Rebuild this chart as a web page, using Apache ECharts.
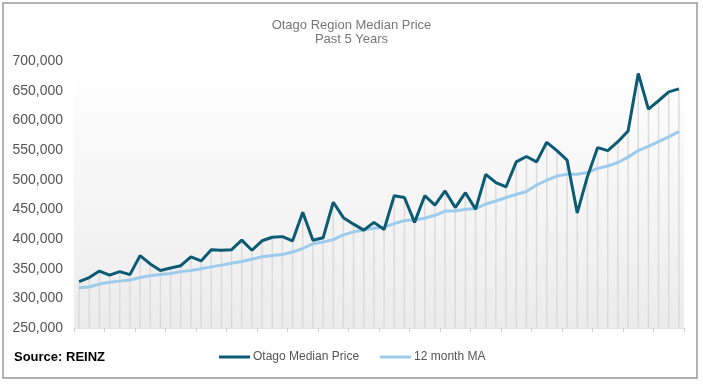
<!DOCTYPE html>
<html>
<head>
<meta charset="utf-8">
<script src="https://cdn.jsdelivr.net/npm/echarts@6/dist/echarts.min.js"></script>
<style>html,body{margin:0;padding:0;background:#fff;}#chart{width:703px;height:385px;}</style>
</head>
<body>
<div id="chart"></div>
<script>
// Months (60 monthly observations, past 5 years)
const months = Array.from({length: 60}, (_, i) => 'M' + (i + 1));
const medianPrice = [328000, 335000, 346000, 339000, 345000, 340000, 372000, 358000, 347000, 351000,
  355000, 370000, 363000, 382000, 381000, 382000, 398000, 381000, 397000, 403000,
  404000, 397000, 445000, 398000, 402000, 462000, 436000, 425000, 415000, 428000,
  416000, 473000, 470000, 428000, 473000, 457000, 481000, 453000, 478000, 450000,
  509000, 495000, 488000, 530000, 539000, 530000, 563000, 549000, 533000, 444000,
  505000, 554000, 549000, 564000, 582000, 679000, 619000, 633000, 648000, 653000];
const movingAvg = [318000, 319000, 324000, 327000, 329000, 331000, 335000, 338000, 340000, 342000,
  345000, 347000, 350000, 353000, 356000, 359000, 362000, 366000, 370000, 372000,
  374000, 378000, 384000, 392000, 395000, 399000, 407000, 412000, 415000, 418000,
  420000, 426000, 431000, 432000, 435000, 440000, 447000, 447000, 450000, 451000,
  459000, 464000, 470000, 475000, 480000, 491000, 499000, 506000, 509000, 509000,
  512000, 519000, 523000, 529000, 538000, 549000, 556000, 564000, 572000, 581000];
const yTicks = {min: 250000, max: 700000, interval: 50000};
const seriesNames = ['Otago Median Price', '12 month MA'];

const chart = echarts.init(document.getElementById('chart'));
chart.setOption({
  animation: false,
  title: {
    text: 'Otago Region Median Price\nPast 5 Years',
    left: 'center', top: 13,
    textStyle: {fontSize: 13, fontWeight: 'normal', color: '#777', lineHeight: 14, fontFamily: 'Liberation Sans'}
  },
  graphic: [
    {type: 'rect', shape: {x: 3, y: 3, width: 694, height: 375}, style: {fill: 'none', stroke: '#999', lineWidth: 1.5}, silent: true},
    {type: 'text', left: 14, top: 351, style: {text: 'Source: REINZ', font: 'bold 13px "Liberation Sans"', fill: '#000'}}
  ],
  legend: {
    data: seriesNames,
    left: 219, top: 351, padding: 0,
    icon: 'rect', itemWidth: 31, itemHeight: 3, itemGap: 21,
    textStyle: {fontSize: 12, color: '#555', fontFamily: 'Liberation Sans', padding: [0, 0, 0, -2]}
  },
  grid: {
    left: 74, right: 19, top: 61, bottom: 57,
    show: true, borderWidth: 0,
    backgroundColor: new echarts.graphic.LinearGradient(0, 0, 0, 1, [
      {offset: 0, color: '#ffffff'}, {offset: 1, color: '#ececec'}
    ])
  },
  xAxis: {
    type: 'category', data: months, boundaryGap: true,
    axisLine: {show: true, lineStyle: {color: '#e0e0e0'}},
    axisTick: {show: true, length: 4, lineStyle: {color: '#cfcfcf'}},
    axisLabel: {show: false}
  },
  yAxis: {
    type: 'value', min: yTicks.min, max: yTicks.max, interval: yTicks.interval,
    splitLine: {show: false},
    axisLine: {show: false}, axisTick: {show: false},
    axisLabel: {
      margin: 11, fontSize: 14, color: '#555', fontFamily: 'Liberation Sans',
      formatter: v => v.toLocaleString('en-US')
    }
  },
  series: [
    {
      name: 'drop', type: 'bar', data: medianPrice, barWidth: 1.5, z: 1,
      itemStyle: {color: '#dcdcdc'}, silent: true
    },
    {
      name: seriesNames[0], type: 'line', data: medianPrice, symbol: 'none', z: 3,
      lineStyle: {color: '#0c5a74', width: 3}, itemStyle: {color: '#0c5a74'}
    },
    {
      name: seriesNames[1], type: 'line', data: movingAvg, symbol: 'none', z: 2,
      lineStyle: {color: '#9dcbeb', width: 3}, itemStyle: {color: '#9dcbeb'}
    }
  ]
});
</script>
</body>
</html>
